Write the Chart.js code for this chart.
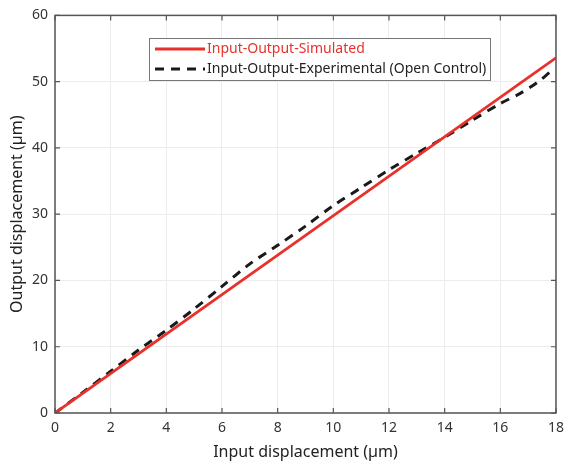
<!DOCTYPE html>
<html>
<head>
<meta charset="utf-8">
<script src="https://cdn.jsdelivr.net/npm/chart.js@4.4.1/dist/chart.umd.min.js"></script>
<style>
  html, body { margin: 0; padding: 0; background: #fff; }
  #wrap { width: 571px; height: 462px; }
</style>
</head>
<body>
<div id="wrap"><canvas id="chart" width="571" height="462"></canvas></div>
<script>
// data
const simX = [0, 18];
const simY = [0, 53.6];
const expX = [0, 1, 2, 3, 4, 5, 6, 7, 8, 9, 10, 11, 12, 13, 14, 15, 16, 16.7, 17.3, 17.8];
const expY = [0, 3.1, 6.3, 9.5, 12.5, 15.7, 19.1, 22.5, 25.3, 28.2, 31.3, 34.0, 36.7, 39.2, 41.6, 44.2, 46.7, 48.2, 49.8, 51.5];
const xTicks = [0, 2, 4, 6, 8, 10, 12, 14, 16, 18];
const yTicks = [0, 10, 20, 30, 40, 50, 60];

const FONT = '"Noto Sans", "Open Sans", sans-serif';
const axisColor = '#555';

function toPoints(xs, ys) {
    return xs.map((x, i) => ({ x: x, y: ys[i] }));
}

// box + inward ticks on all four sides, like the original figure
const framePlugin = {
    id: 'frame',
    afterDraw(chart) {
        const { ctx, chartArea: a, scales } = chart;
        ctx.save();
        ctx.strokeStyle = axisColor;
        ctx.lineWidth = 1.5;
        ctx.strokeRect(a.left, a.top, a.right - a.left, a.bottom - a.top);
        ctx.lineWidth = 1.2;
        ctx.beginPath();
        xTicks.forEach(v => {
            const px = scales.x.getPixelForValue(v);
            ctx.moveTo(px, a.bottom); ctx.lineTo(px, a.bottom - 5);
            ctx.moveTo(px, a.top); ctx.lineTo(px, a.top + 5);
        });
        yTicks.forEach(v => {
            const py = scales.y.getPixelForValue(v);
            ctx.moveTo(a.left, py); ctx.lineTo(a.left + 5, py);
            ctx.moveTo(a.right, py); ctx.lineTo(a.right - 5, py);
        });
        ctx.stroke();
        ctx.restore();
    }
};

// legend box inside the plot
const boxLegend = {
    id: 'boxLegend',
    afterDatasetsDraw(chart) {
        const { ctx } = chart;
        const x0 = 149, y0 = 38, w = 341, h = 42;
        ctx.save();
        ctx.fillStyle = '#fff';
        ctx.fillRect(x0, y0, w, h);
        ctx.strokeStyle = '#777';
        ctx.lineWidth = 1;
        ctx.strokeRect(x0 + 0.5, y0 + 0.5, w, h);
        ctx.font = '14px ' + FONT;
        ctx.textBaseline = 'middle';
        chart.data.datasets.forEach((ds, i) => {
            const cy = y0 + 11 + i * 20;
            ctx.strokeStyle = ds.borderColor;
            ctx.lineWidth = ds.borderWidth;
            ctx.setLineDash(ds.borderDash || []);
            ctx.beginPath();
            ctx.moveTo(x0 + 6, cy);
            ctx.lineTo(x0 + 56, cy);
            ctx.stroke();
            ctx.setLineDash([]);
            ctx.fillStyle = i === 0 ? '#e8312a' : '#222';
            ctx.fillText(ds.label, x0 + 58, cy);
        });
        ctx.restore();
    }
};

new Chart(document.getElementById('chart'), {
    type: 'line',
    data: {
        datasets: [{
            label: 'Input-Output-Simulated',
            data: toPoints(simX, simY),
            borderColor: '#e8312a',
            borderWidth: 2.8,
            pointRadius: 0,
            tension: 0
        }, {
            label: 'Input-Output-Experimental (Open Control)',
            data: toPoints(expX, expY),
            borderColor: '#1a1a1a',
            borderWidth: 3,
            borderDash: [9, 7],
            pointRadius: 0,
            tension: 0.3
        }]
    },
    options: {
        responsive: false,
        animation: false,
        layout: { padding: { top: 15, right: 8 } },
        plugins: {
            legend: { display: false },
            tooltip: { enabled: false }
        },
        scales: {
            x: {
                type: 'linear',
                min: 0,
                max: 18,
                afterBuildTicks: s => { s.ticks = xTicks.map(v => ({ value: v })); },
                afterFit: s => { s.height = 49; },
                grid: { color: '#ececec', drawTicks: false },
                border: { display: false },
                ticks: { color: '#333', padding: 7, font: { size: 14, family: FONT } },
                title: {
                    display: true,
                    text: 'Input displacement (µm)',
                    color: '#222',
                    padding: { top: 0, bottom: 0 },
                    font: { size: 16, family: FONT }
                }
            },
            y: {
                min: 0,
                max: 60,
                afterBuildTicks: s => { s.ticks = yTicks.map(v => ({ value: v })); },
                afterFit: s => { s.width = 55; },
                grid: { color: '#ececec', drawTicks: false },
                border: { display: false },
                ticks: { color: '#333', padding: 7, font: { size: 14, family: FONT } },
                title: {
                    display: true,
                    text: 'Output displacement (µm)',
                    color: '#222',
                    padding: { top: 8, bottom: 0 },
                    font: { size: 16, family: FONT }
                }
            }
        }
    },
    plugins: [framePlugin, boxLegend]
});
</script>
</body>
</html>
